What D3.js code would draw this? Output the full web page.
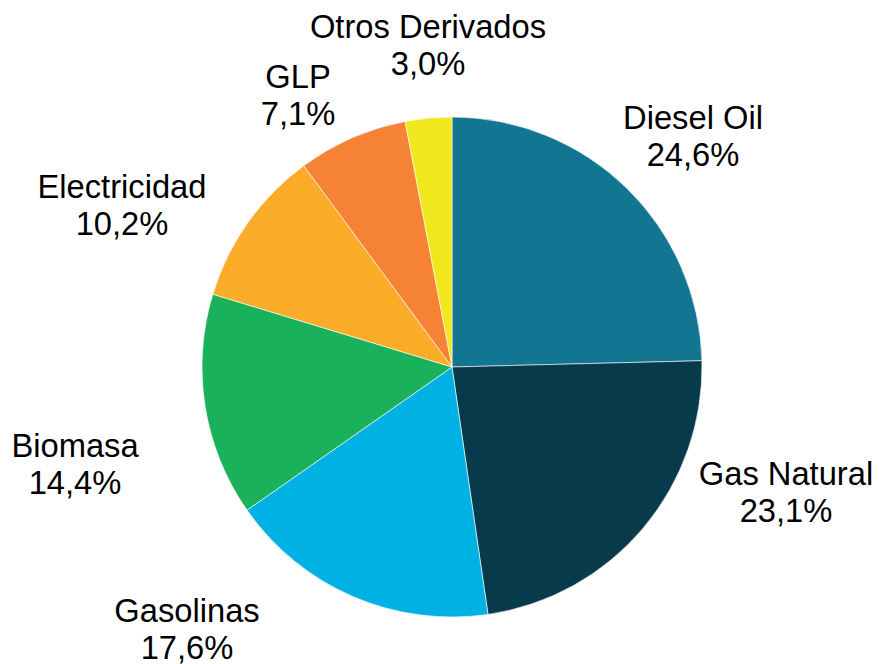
<!DOCTYPE html>
<html>
<head>
<meta charset="utf-8">
<script src="https://cdn.jsdelivr.net/npm/d3@7"></script>
<style>
  html, body { margin: 0; padding: 0; background: #ffffff; }
  svg { display: block; }
</style>
</head>
<body>
<svg id="chart" width="879" height="664"></svg>
<script>
// ---- data ----
const categories = ["Diesel Oil", "Gas Natural", "Gasolinas", "Biomasa", "Electricidad", "GLP", "Otros Derivados"];
const shares = [24.6, 23.1, 17.6, 14.4, 10.2, 7.1, 3.0];
const valueLabels = ["24,6%", "23,1%", "17,6%", "14,4%", "10,2%", "7,1%", "3,0%"];

// ---- styling / layout (kept separate from data) ----
const colors = ["#127592", "#073b4b", "#00b2e3", "#19b15a", "#fbac28", "#f58235", "#f0e81c"];
// label anchor (baseline of first line) relative to pie centre
const labelOffsets = [[241, -238], [334, 118], [-265, 255], [-377, 90], [-330, -169], [-154, -279], [-24, -329]];

const W = 879, H = 664;
const cx = 452, cy = 367, R = 250;
const fontSize = 32.7, lineGap = 37;

const svg = d3.select("#chart");
const g = svg.append("g").attr("transform", `translate(${cx},${cy})`);

const data = categories.map((c, i) => ({ name: c, value: shares[i], label: valueLabels[i], color: colors[i], off: labelOffsets[i] }));

const pie = d3.pie().value(d => d.value).sort(null).startAngle(0).endAngle(2 * Math.PI);
const arc = d3.arc().innerRadius(0).outerRadius(R);

g.selectAll("path.slice")
  .data(pie(data))
  .join("path")
  .attr("class", "slice")
  .attr("d", arc)
  .attr("fill", d => d.data.color)
  .attr("stroke", "#ffffff")
  .attr("stroke-width", 0.6);

const labels = g.selectAll("text.lbl")
  .data(pie(data))
  .join("text")
  .attr("class", "lbl")
  .attr("text-anchor", "middle")
  .attr("font-family", "'Liberation Sans', Arial, Helvetica, sans-serif")
  .attr("font-size", fontSize)
  .attr("fill", "#000000")
  .attr("transform", d => `translate(${d.data.off[0]},${d.data.off[1]})`);

labels.append("tspan").attr("x", 0).attr("y", 0).text(d => d.data.name);
labels.append("tspan").attr("x", 0).attr("y", lineGap).text(d => d.data.label);
</script>
</body>
</html>
